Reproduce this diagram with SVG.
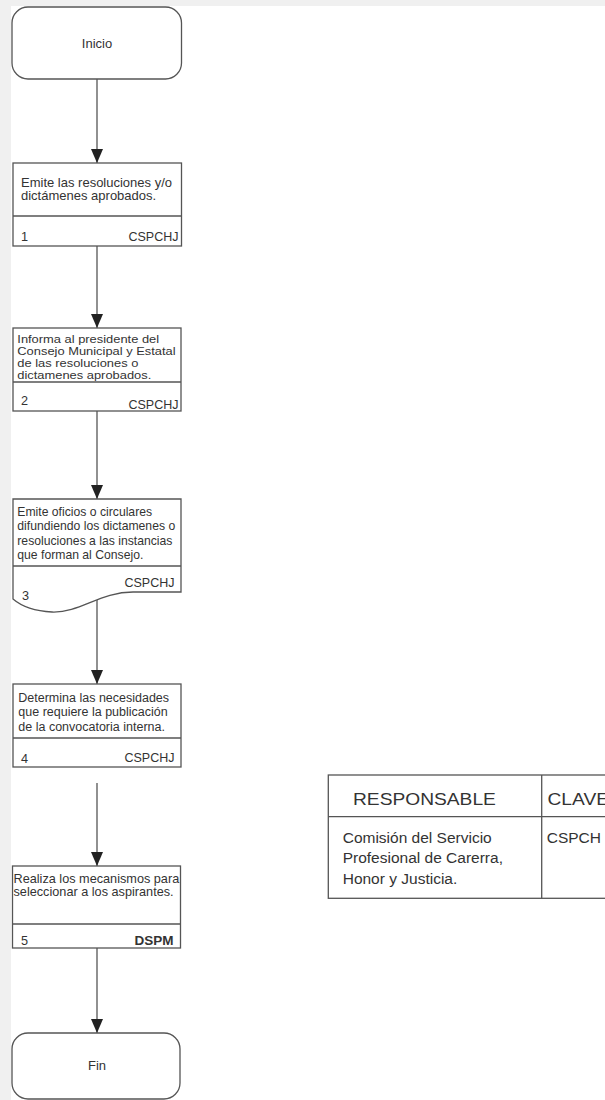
<svg xmlns="http://www.w3.org/2000/svg" width="605" height="1100" viewBox="0 0 605 1100">
<defs>
<style>
.bg{fill:#f0f0f0}
.shape{fill:#fff;stroke:#555;stroke-width:1.3}
.div{stroke:#555;stroke-width:1.3;fill:none}
.conn{stroke:#555;stroke-width:1.3;fill:none;marker-end:url(#arr)}
text{font-family:"Liberation Sans",Arial,sans-serif;fill:#333}
.t{font-size:12.7px}
.c{text-anchor:middle;font-size:13px}
.r{text-anchor:end;font-size:12.5px}
.hd{font-size:16px}
.tb{font-size:15.5px}
</style>
<marker id="arr" viewBox="0 -6 14 12" refX="14" refY="0" markerWidth="14" markerHeight="12" markerUnits="userSpaceOnUse" orient="auto">
<path d="M0,-6 L14,0 L0,6 Z" fill="#222"/>
</marker>
</defs>
<rect x="0" y="0" width="605" height="1100" fill="#fff"/>
<rect class="bg" x="0" y="0" width="605" height="6"/>
<rect class="bg" x="0" y="0" width="11" height="1100"/>

<g id="connectors">
<line class="conn" x1="97" y1="79" x2="97" y2="163"/>
<line class="conn" x1="97" y1="246" x2="97" y2="328"/>
<line class="conn" x1="97" y1="411" x2="97" y2="499"/>
<line class="conn" x1="97" y1="600" x2="97" y2="684"/>
<line class="conn" x1="97" y1="783" x2="97" y2="866"/>
<line class="conn" x1="97" y1="948" x2="97" y2="1033"/>
</g>

<g id="inicio">
<rect class="shape" x="12" y="7" width="169.5" height="72" rx="16" ry="16"/>
<text class="c" x="97" y="48">Inicio</text>
</g>

<g id="step1">
<rect class="shape" x="13" y="163" width="168.5" height="83"/>
<line class="div" x1="13" y1="216" x2="181.5" y2="216"/>
<text style="font-size:13px" x="21" y="186.5">Emite las resoluciones y/o</text>
<text style="font-size:13px" x="21" y="200">dictámenes aprobados.</text>
<text class="t" x="21" y="241">1</text>
<text class="r" x="178.5" y="241">CSPCHJ</text>
</g>

<g id="step2">
<rect class="shape" x="13" y="328" width="168" height="83"/>
<line class="div" x1="13" y1="382" x2="181" y2="382"/>
<g transform="translate(17.3,0) scale(1.24,1)">
<text style="font-size:10.4px" x="0" y="343.3">Informa al presidente del</text>
<text style="font-size:10.4px" x="0" y="355.3">Consejo Municipal y Estatal</text>
<text style="font-size:10.4px" x="0" y="367.2">de las resoluciones o</text>
<text style="font-size:10.4px" x="0" y="379">dictamenes aprobados.</text>
</g>
<text class="t" x="21" y="405">2</text>
<text class="r" x="178.5" y="409">CSPCHJ</text>
</g>

<g id="step3">
<path class="shape" d="M13,499 H181 V592 H133 C100,592 80,613 52,612 C32,611 20,605 13,599 Z"/>
<line class="div" x1="13" y1="566" x2="181" y2="566"/>
<text style="font-size:12.2px" x="17.3" y="515.5">Emite oficios o circulares</text>
<text style="font-size:12.2px" x="17.3" y="530">difundiendo los dictamenes o</text>
<text style="font-size:12.2px" x="17.3" y="544.5">resoluciones a las instancias</text>
<text style="font-size:12.2px" x="17.3" y="559">que forman al Consejo.</text>
<text class="r" x="174.5" y="587">CSPCHJ</text>
<text class="t" x="22" y="600">3</text>
</g>

<g id="step4">
<rect class="shape" x="13" y="684" width="168" height="83"/>
<line class="div" x1="13" y1="738" x2="181" y2="738"/>
<text style="font-size:12.5px" x="18.3" y="701.5">Determina las necesidades</text>
<text style="font-size:12.5px" x="18.3" y="716">que requiere la publicación</text>
<text style="font-size:12.5px" x="18.3" y="730.5">de la convocatoria interna.</text>
<text class="t" x="21" y="762.5">4</text>
<text class="r" x="174.5" y="762">CSPCHJ</text>
</g>

<g id="step5">
<rect class="shape" x="12.5" y="866" width="168" height="82"/>
<line class="div" x1="12.5" y1="924" x2="180.5" y2="924"/>
<text class="t" x="13.5" y="882.5">Realiza los mecanismos para</text>
<text class="t" x="13.5" y="896">seleccionar a los aspirantes.</text>
<text class="t" x="21" y="945">5</text>
<text class="r" x="173.5" y="945" style="font-size:13.5px;font-weight:bold">DSPM</text>
</g>

<g id="fin">
<rect class="shape" x="12" y="1033" width="168" height="66" rx="16" ry="16"/>
<text class="c" x="97" y="1070">Fin</text>
</g>

<g id="tabla">
<rect class="shape" x="328.3" y="775" width="300" height="123.3"/>
<line class="div" x1="328.3" y1="816.7" x2="628" y2="816.7"/>
<line class="div" x1="541.7" y1="775" x2="541.7" y2="898.3"/>
<text class="hd" transform="translate(353,805) scale(1.2,1)" x="0" y="0">RESPONSABLE</text>
<text class="hd" transform="translate(547.5,805) scale(1.2,1)" x="0" y="0">CLAVE</text>
<text class="tb" x="342.7" y="843">Comisión del Servicio</text>
<text class="tb" x="342.7" y="863">Profesional de Carerra,</text>
<text class="tb" x="342.7" y="884">Honor y Justicia.</text>
<text class="tb" x="546.7" y="843">CSPCH</text>
</g>
</svg>
